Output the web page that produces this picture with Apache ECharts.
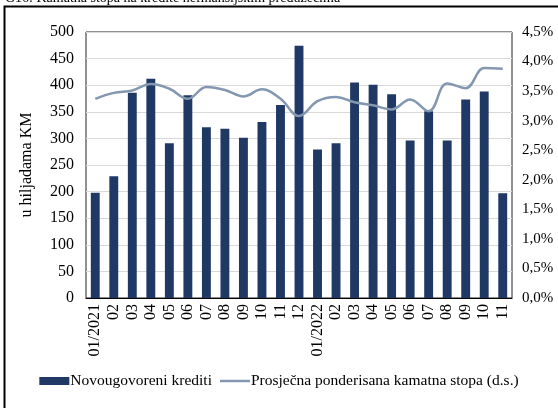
<!DOCTYPE html>
<html>
<head>
<meta charset="utf-8">
<script src="https://cdn.jsdelivr.net/npm/echarts@6/dist/echarts.min.js"></script>
<style>
  html, body { margin: 0; padding: 0; background: #fff; }
  #chart { width: 558px; height: 408px; }
</style>
</head>
<body>
<div id="chart"></div>
<script>
// mjeseci
const months = ['01/2021', '02', '03', '04', '05', '06', '07', '08', '09', '10', '11', '12',
  '01/2022', '02', '03', '04', '05', '06', '07', '08', '09', '10', '11'];
// novougovoreni krediti, u hiljadama KM
const credits = [198, 229, 386, 412, 291, 381, 321, 318, 301, 331, 363, 474,
  279, 291, 405, 401, 383, 296, 351, 296, 373, 388, 197];
// prosjecna ponderisana kamatna stopa, %
const rate = [3.37, 3.47, 3.51, 3.62, 3.54, 3.37, 3.57, 3.52, 3.41, 3.53, 3.37, 3.08,
  3.33, 3.40, 3.31, 3.26, 3.19, 3.36, 3.16, 3.63, 3.55, 3.89, 3.88];

const font = '"Liberation Serif", "Times New Roman", serif';
const chart = echarts.init(document.getElementById('chart'));

const option = {
  animation: false,
  textStyle: { fontFamily: font, color: '#000' },
  graphic: [
    {
      type: 'text', left: 5, top: -9,
      style: { text: 'G16: Kamatna stopa na kredite nefinansijskim preduzećima', font: '14px ' + font, fill: '#000' }
    },
    {
      type: 'polyline',
      shape: { points: [[4.5, 420], [4.5, 6.5], [570, 6.5]] },
      style: { stroke: '#000', lineWidth: 2, fill: null }
    }
  ],
  grid: {
    left: 86, right: 46, top: 32, bottom: 110,
    show: true, borderColor: '#222', borderWidth: 1, backgroundColor: 'transparent'
  },
  legend: {
    bottom: 14,
    left: 'center',
    itemGap: 8,
    itemWidth: 30,
    itemHeight: 8,
    textStyle: { fontFamily: font, fontSize: 15.5, color: '#000', padding: [0, 0, 0, -4] },
    data: [
      { name: 'Novougovoreni krediti', icon: 'rect' },
      { name: 'Prosječna ponderisana kamatna stopa (d.s.)', icon: 'path://M0,0 L30,0 L30,2.5 L0,2.5 Z' }
    ]
  },
  xAxis: {
    type: 'category',
    data: months,
    axisLine: { show: true, lineStyle: { color: '#000' } },
    axisTick: { show: false },
    axisLabel: { rotate: 90, fontFamily: font, fontSize: 16, color: '#000', margin: 6, interval: 0 }
  },
  yAxis: [
    {
      type: 'value', min: 0, max: 500, interval: 50,
      name: 'u hiljadama KM',
      nameLocation: 'middle',
      nameGap: 51,
      nameTextStyle: { fontFamily: font, fontSize: 16, color: '#000' },
      axisLine: { show: false },
      axisTick: { show: false },
      axisLabel: { fontFamily: font, fontSize: 16, color: '#000', margin: 12 },
      splitLine: { lineStyle: { color: '#d9d9d9', width: 1 } }
    },
    {
      type: 'value', min: 0, max: 4.5, interval: 0.5,
      axisLine: { show: false },
      axisTick: { show: false },
      splitLine: { show: false },
      axisLabel: {
        fontFamily: font, fontSize: 15, color: '#000', margin: 10,
        formatter: v => v.toFixed(1).replace('.', ',') + '%'
      }
    }
  ],
  series: [
    {
      name: 'Novougovoreni krediti',
      type: 'bar',
      data: credits,
      barWidth: '48%',
      itemStyle: { color: '#1f3864' }
    },
    {
      name: 'Prosječna ponderisana kamatna stopa (d.s.)',
      type: 'line',
      yAxisIndex: 1,
      data: rate,
      smooth: 0.4,
      symbol: 'none',
      lineStyle: { color: '#8497b0', width: 2.5 },
      itemStyle: { color: '#8497b0' }
    }
  ]
};

chart.setOption(option);
</script>
</body>
</html>
